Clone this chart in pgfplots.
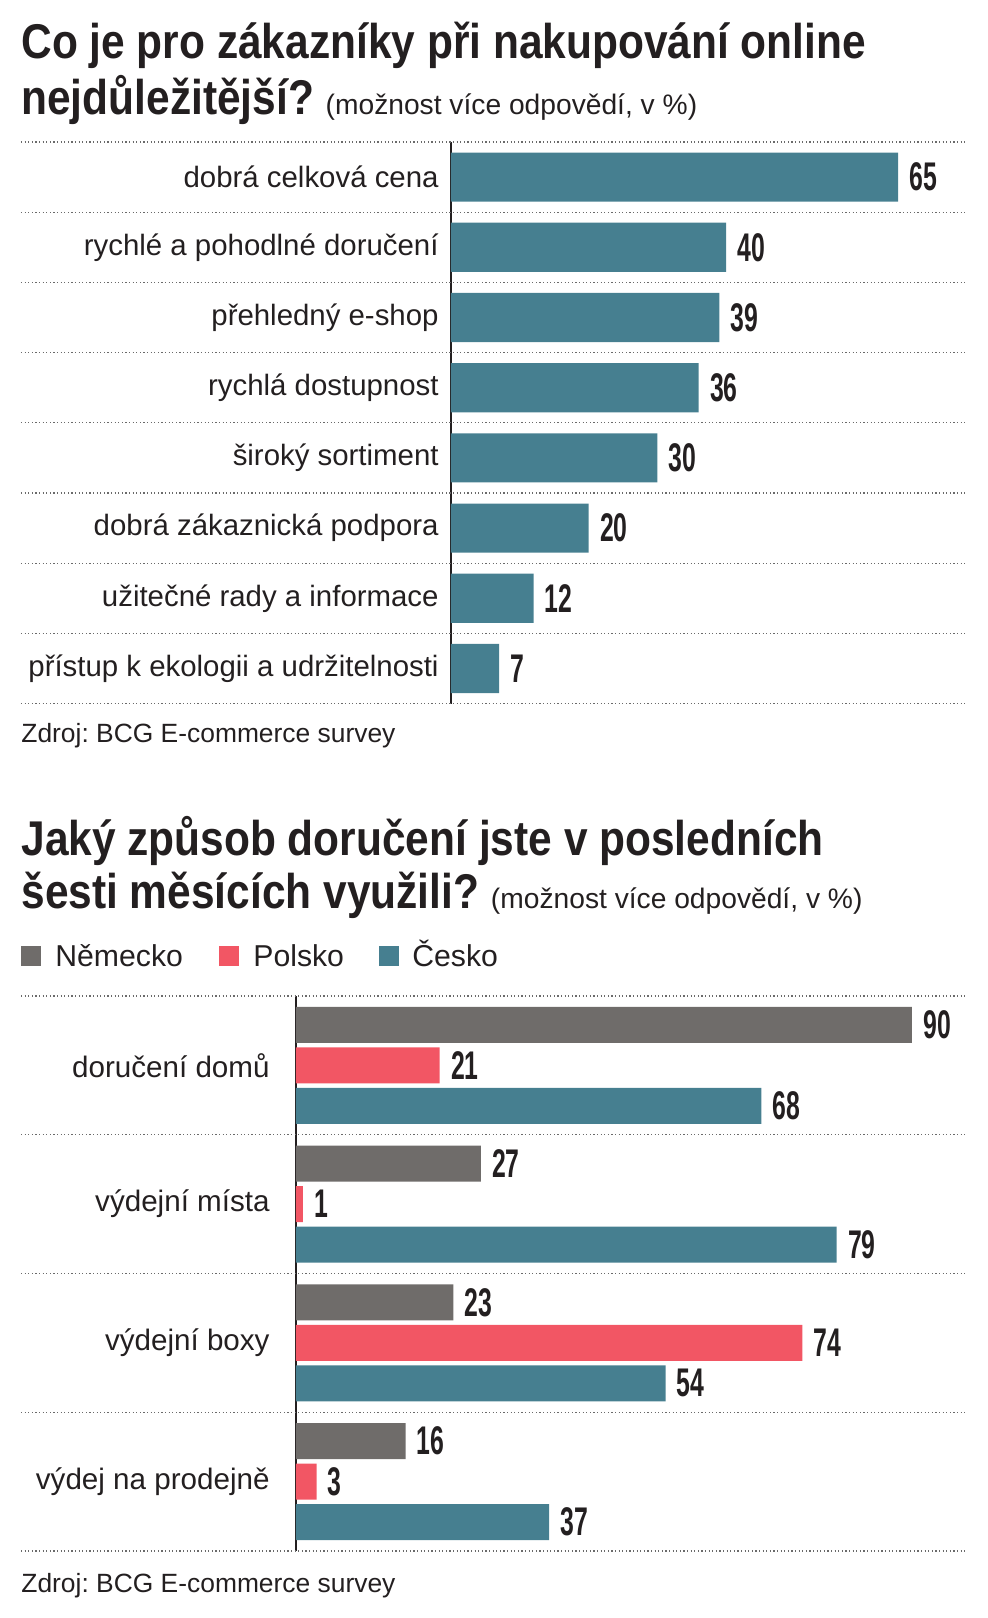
\documentclass[border=0pt]{standalone}
\usepackage{fontspec}
\usepackage{pgfplots}
\pgfplotsset{compat=1.18}
\setmainfont{Liberation Sans}
\newfontfamily\titlefont[FakeStretch=0.87]{Liberation Sans Bold}
\newfontfamily\numfont[FakeStretch=0.62]{Liberation Sans Bold}
\definecolor{teal}{HTML}{467F90}
\definecolor{grey}{HTML}{6F6C6A}
\definecolor{red}{HTML}{F25664}
\definecolor{txt}{HTML}{231F20}
\definecolor{dots}{HTML}{6A6A6A}
\newcommand\lab{\fontsize{14.7}{17}\selectfont}
\newcommand\labb{\fontsize{14.8}{17}\selectfont}
\newcommand\leg{\fontsize{15.1}{17}\selectfont}
\newcommand\src{\fontsize{13.2}{16}\selectfont}
\newcommand\num{\numfont\fontsize{20}{22}\selectfont}
\newcommand\ttl{\titlefont\fontsize{24.4}{29}\selectfont}
\newcommand\sub{\normalfont\fontsize{14.1}{16}\selectfont}
\tikzset{dotline/.style={draw=dots, line width=0.6pt, dash pattern=on 0.6pt off 1.2pt}}
\pgfplotsset{
  hbars/.style={
    scale only axis, anchor=north west, clip=false,
    xbar, xmin=0,
    axis x line=none, axis y line=left,
    y axis line style={-, line width=1pt, draw=txt},
    major tick length=0pt,
    yticklabel style={text=txt, inner sep=0pt},
    point meta=x,
    nodes near coords={\pgfmathprintnumber[assume math mode=true]{\pgfplotspointmeta}},
    nodes near coords style={font=\num, text=txt, anchor=west, inner sep=0pt, xshift=5.5pt},
  },
}
\begin{document}
\frenchspacing
\begin{tikzpicture}[x=1pt,y=1pt]
\useasboundingbox (0,0) rectangle (494,-809);
\color{txt}
% first chart
\node[anchor=base west, inner sep=0pt] at (10.5,-29) {\ttl Co je pro zákazníky při nakupování online};
\node[anchor=base west, inner sep=0pt] at (10.5,-57) {\ttl nejdůležitější? \sub(možnost více odpovědí, v \%)};
\begin{axis}[hbars,
  at={(225.5pt,-71pt)}, width=257.5pt, height=280.8pt,
  xmax=74.85, ymin=-0.5, ymax=7.5, bar width=0.7,
  ytick={0,...,7},
  yticklabels={přístup k ekologii a udržitelnosti, užitečné rady a informace,
    dobrá zákaznická podpora, široký sortiment, rychlá dostupnost,
    přehledný e-shop, rychlé a pohodlné doručení, dobrá celková cena},
  yticklabel style={font=\lab, xshift=-6pt},
]
\addplot[fill=teal, draw=none] coordinates {
  (7,0) (12,1) (20,2) (30,3) (36,4) (39,5) (40,6) (65,7)
};
\pgfplotsinvokeforeach{0,...,8}{
  \draw[dotline] (rel axis cs:-0.835,#1/8) -- (rel axis cs:1,#1/8);
}
\end{axis}
\node[anchor=base west, inner sep=0pt] at (10.5,-371) {\src Zdroj: BCG E-commerce survey};
% second chart
\node[anchor=base west, inner sep=0pt] at (10.5,-427.5) {\ttl Jaký způsob doručení jste v posledních};
\node[anchor=base west, inner sep=0pt] at (10.5,-454) {\ttl šesti měsících využili? \sub(možnost více odpovědí, v \%)};
\fill[grey] (10.5,-473) rectangle (20.5,-483);
\node[anchor=base west, inner sep=0pt] at (27.5,-483) {\leg Německo};
\fill[red] (109.5,-473) rectangle (119.5,-483);
\node[anchor=base west, inner sep=0pt] at (126.5,-483) {\leg Polsko};
\fill[teal] (189.5,-473) rectangle (199.5,-483);
\node[anchor=base west, inner sep=0pt] at (206,-483) {\leg Česko};
\begin{axis}[hbars,
  at={(148pt,-498pt)}, width=335pt, height=277.5pt,
  xmax=97.9, ymin=-0.5, ymax=3.5, bar width=18pt,
  ytick={0,...,3},
  yticklabels={výdej na prodejně, výdejní boxy, výdejní místa, doručení domů},
  yticklabel style={font=\labb, xshift=-13pt},
]
\addplot[fill=grey, draw=none, bar shift=20.25pt] coordinates {
  (16,0) (23,1) (27,2) (90,3)
};
\addplot[fill=red, draw=none, bar shift=0pt] coordinates {
  (3,0) (74,1) (1,2) (21,3)
};
\addplot[fill=teal, draw=none, bar shift=-20.25pt] coordinates {
  (37,0) (54,1) (79,2) (68,3)
};
\pgfplotsinvokeforeach{0,...,4}{
  \draw[dotline] (rel axis cs:-0.4104,#1/4) -- (rel axis cs:1,#1/4);
}
\end{axis}
\node[anchor=base west, inner sep=0pt] at (10.5,-796) {\src Zdroj: BCG E-commerce survey};
\end{tikzpicture}
\end{document}
